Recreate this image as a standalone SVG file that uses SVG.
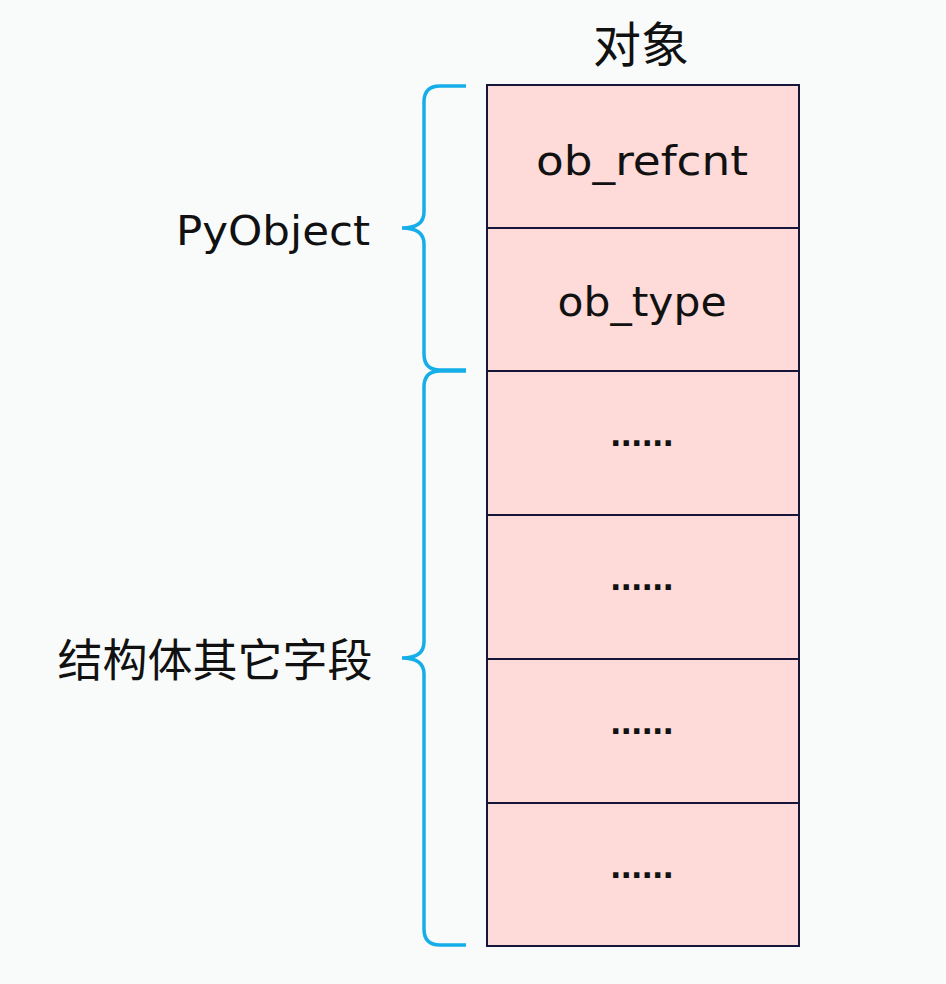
<svg xmlns="http://www.w3.org/2000/svg" width="946" height="984" viewBox="0 0 946 984">
<style>
.cell{fill:#fedad9;stroke:#16163a;stroke-width:2}
.brace{fill:none;stroke:#15aee8;stroke-width:3.5;stroke-linecap:butt}
.lbl{font-family:"DejaVu Sans","Noto Sans",sans-serif;fill:#111;text-anchor:middle}
.dots{font-family:"DejaVu Sans","Noto Sans",sans-serif;font-weight:bold;fill:#111;text-anchor:middle;font-size:30px}
.cjk{font-family:"Noto Sans CJK SC","Noto Sans",sans-serif;fill:#111;text-anchor:middle}
</style>
<rect x="0" y="0" width="946" height="984" fill="#f9fbfb"/>
<text class="cjk" x="641" y="62" font-size="48">对象</text>
<g id="cell1"><rect class="cell" x="487" y="85" width="312" height="143"/><text class="lbl" x="642" y="175" font-size="40" textLength="212" lengthAdjust="spacingAndGlyphs">ob_refcnt</text></g>
<g id="cell2"><rect class="cell" x="487" y="228" width="312" height="143"/><text class="lbl" x="642" y="316" font-size="40" textLength="169" lengthAdjust="spacingAndGlyphs">ob_type</text></g>
<g id="cell3"><rect class="cell" x="487" y="371" width="312" height="144"/><text class="dots" x="642" y="446" textLength="64" lengthAdjust="spacing">......</text></g>
<g id="cell4"><rect class="cell" x="487" y="515" width="312" height="144"/><text class="dots" x="642" y="590" textLength="64" lengthAdjust="spacing">......</text></g>
<g id="cell5"><rect class="cell" x="487" y="659" width="312" height="144"/><text class="dots" x="642" y="734" textLength="64" lengthAdjust="spacing">......</text></g>
<g id="cell6"><rect class="cell" x="487" y="803" width="312" height="143"/><text class="dots" x="642" y="878" textLength="64" lengthAdjust="spacing">......</text></g>
<g id="connectors">
<path class="brace" d="M466,86 H440 Q424,86 424,102 V212 Q424,228 402,228 Q424,228 424,244 V354 Q424,370 440,370 H466"/>
<path class="brace" d="M466,371 H440 Q424,371 424,387 V642 Q424,658 402,658 Q424,658 424,674 V929 Q424,945 440,945 H466"/>
</g>
<g id="label-pyobject"><text class="lbl" x="273" y="245" font-size="40" textLength="194" lengthAdjust="spacingAndGlyphs">PyObject</text></g>
<g id="label-other"><text class="cjk" x="215" y="677" font-size="45">结构体其它字段</text></g>
</svg>
